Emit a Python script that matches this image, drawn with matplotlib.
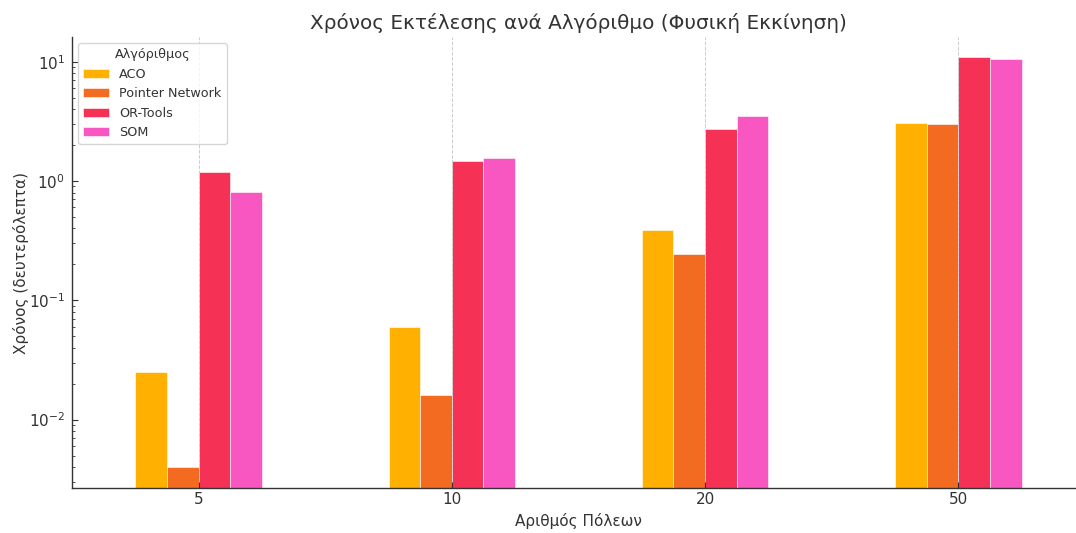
import matplotlib
matplotlib.use("Agg")
import matplotlib.pyplot as plt
import numpy as np

cities = ["5", "10", "20", "50"]
algorithms = ["ACO", "Pointer Network", "OR-Tools", "SOM"]
aco_times = [0.025, 0.06, 0.39, 3.08]
pointer_times = [0.004, 0.016, 0.243, 2.99]
ortools_times = [1.19, 1.47, 2.73, 10.9]
som_times = [0.81, 1.56, 3.5, 10.5]
colors = ["#FFB000", "#F26B21", "#F53255", "#F857C1"]

series = [aco_times, pointer_times, ortools_times, som_times]

plt.rcParams["font.family"] = ["DejaVu Sans"]
text_color = "#333333"

fig = plt.figure(figsize=(10.76, 5.33), dpi=100)
# axes run slightly past the right edge of the canvas
ax = fig.add_axes([0.0669, 0.0844, 0.9414, 0.8462])

x = np.arange(len(cities))
width = 0.125
for i, (name, vals, c) in enumerate(zip(algorithms, series, colors)):
    offset = (i - 1.5) * width
    ax.bar(x + offset, vals, width, color=c, label=name,
           edgecolor="white", linewidth=0.4, zorder=2)

ax.set_yscale("log")
ax.set_ylim(0.00267, 16.1)
ax.set_xlim(-0.5, 3.5)
ax.set_xticks(x)
ax.set_xticklabels(cities)

ax.xaxis.grid(True, linestyle="--", color="#cccccc", linewidth=0.7, zorder=3)
ax.set_axisbelow(False)

for side in ["top", "right"]:
    ax.spines[side].set_visible(False)
for side in ["left", "bottom"]:
    ax.spines[side].set_color(text_color)
    ax.spines[side].set_linewidth(1.0)

ax.tick_params(axis="both", which="both", direction="in", colors=text_color,
               labelsize=11, labelcolor=text_color)
ax.tick_params(axis="x", which="major", length=4, pad=3)
ax.tick_params(axis="y", which="major", length=4, pad=5)
ax.tick_params(axis="y", which="minor", length=2.5)

ax.set_title("Χρόνος Εκτέλεσης ανά Αλγόριθμο (Φυσική Εκκίνηση)",
             fontsize=14.4, color=text_color, pad=6)
ax.set_xlabel("Αριθμός Πόλεων", fontsize=11, color=text_color, labelpad=4)
ax.set_ylabel("Χρόνος (δευτερόλεπτα)", fontsize=11, color=text_color, labelpad=0)

leg = ax.legend(title="Αλγόριθμος", loc="upper left", fontsize=9.2,
                title_fontsize=9.2, frameon=True, borderaxespad=0.5)
for t in leg.get_texts():
    t.set_color(text_color)
leg.get_title().set_color(text_color)

fig.savefig("out.png", dpi=100)
